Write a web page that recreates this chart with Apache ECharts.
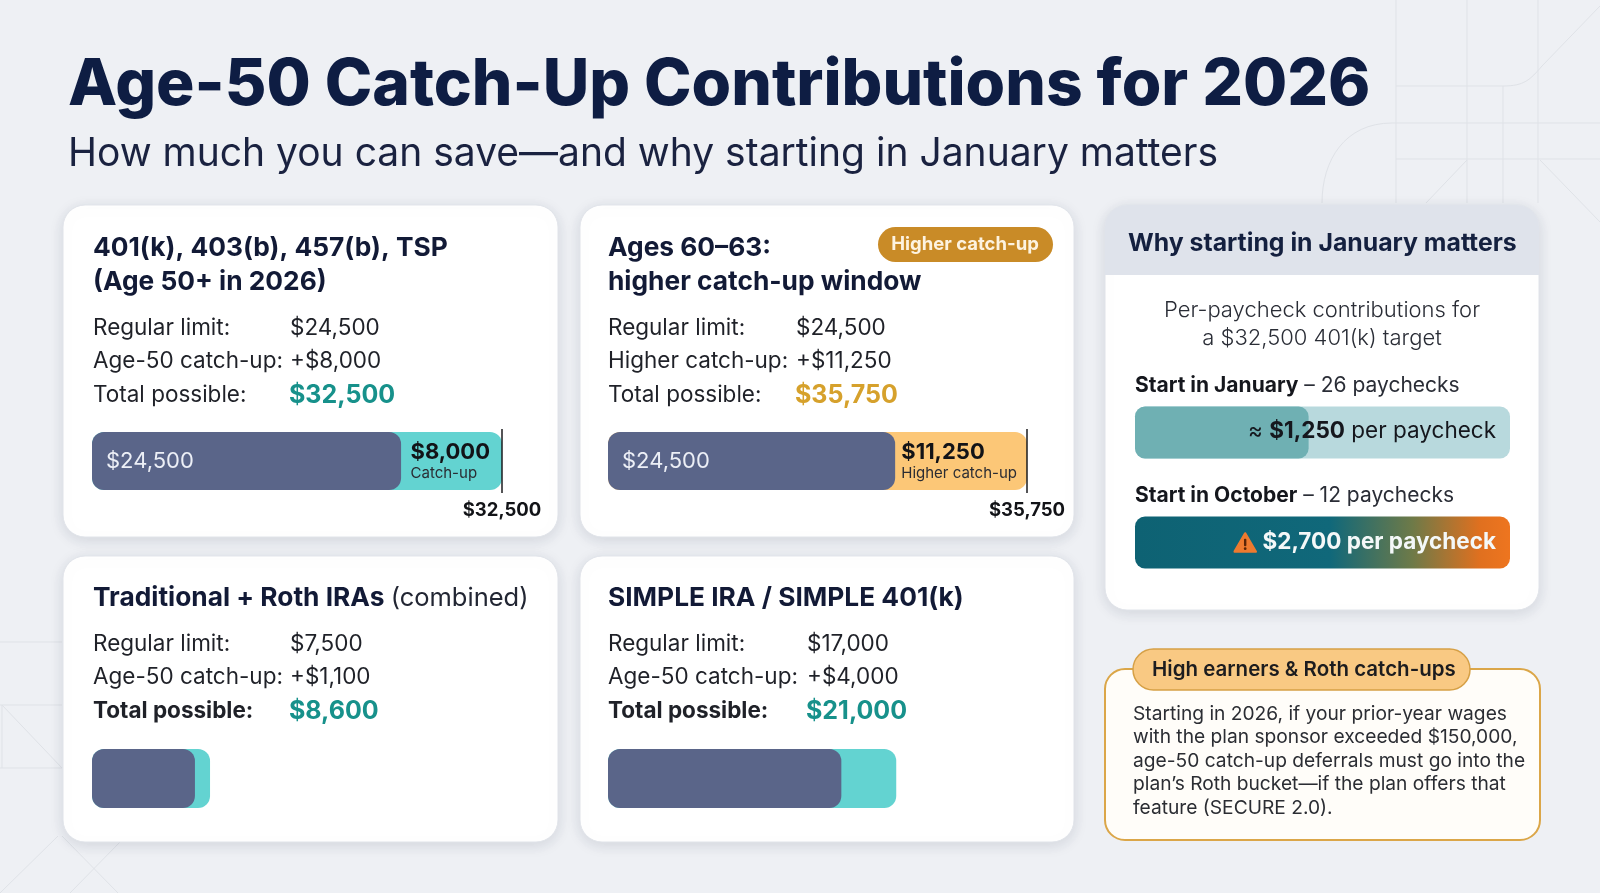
<!DOCTYPE html>
<html>
<head>
<meta charset="utf-8">
<script src="https://cdn.jsdelivr.net/npm/echarts@6/dist/echarts.min.js"></script>
<style>
  html, body { margin: 0; padding: 0; background: #eef0f4; }
  #chart { width: 1600px; height: 893px; }
</style>
</head>
<body>
<div id="chart"></div>
<script>
// --- data ---
const planTitles = [
  ['401(k), 403(b), 457(b), TSP', '(Age 50+ in 2026)'],
  ['Ages 60–63:', 'higher catch-up window'],
  ['{b|Traditional + Roth IRAs} {r|(combined)}'],
  ['SIMPLE IRA / SIMPLE 401(k)']
];
const regularLimit = [24500, 24500, 7500, 17000];
const catchUp = [8000, 11250, 1100, 4000];
const totalPossible = [32500, 35750, 8600, 21000];
const catchUpRowLabel = ['Age-50 catch-up:', 'Higher catch-up:', 'Age-50 catch-up:', 'Age-50 catch-up:'];
const catchUpBarLabel = ['Catch-up', 'Higher catch-up', '', ''];

const paycheckTarget = 32500;
const startMonths = ['January', 'October'];
const paychecks = [26, 12];
const perPaycheck = [1250, 2700];

const rothNote = [
  'Starting in 2026, if your prior-year wages',
  'with the plan sponsor exceeded $150,000,',
  'age-50 catch-up deferrals must go into the',
  'plan’s Roth bucket—if the plan offers that',
  'feature (SECURE 2.0).'
];

// --- layout / style ---
const FONT = 'Inter';
const NAVY = '#5a6589';
const catchColor = ['#63d3d1', '#fcc777', '#63d3d1', '#63d3d1'];
const totalColor = ['#17918b', '#d6a12c', '#17918b', '#17918b'];
const cardBox = [
  { x: 63, y: 205, w: 495, h: 332 },
  { x: 580, y: 205, w: 494, h: 332 },
  { x: 63, y: 556, w: 495, h: 286 },
  { x: 580, y: 556, w: 494, h: 286 }
];
const labelX = [93, 608, 93, 608];
const valueX = [290, 796, 290, 807];
const titleY = [[248, 282], [248, 282], [598], [598]];
const rowY = [[328, 361, 395], [328, 361, 395], [644, 677, 711], [644, 677, 711]];
const barGrids = [
  { left: 92, top: 429, width: 410, height: 64, bar: 58 },
  { left: 608, top: 429, width: 419, height: 64, bar: 58 },
  { left: 92, top: 749, width: 420, height: 59, bar: 59 },
  { left: 608, top: 749, width: 420, height: 59, bar: 59 }
];
const payGrids = [
  { left: 1135, top: 397, width: 375, height: 71, bar: 52 },
  { left: 1135, top: 507, width: 375, height: 71, bar: 52 }
];

const fmt = (v) => '$' + v.toLocaleString('en-US');

function txt(x, y, text, size, weight, color, extra) {
  return {
    type: 'text', x: x, y: y, z: 10,
    style: Object.assign({
      text: text, fontSize: size, fontWeight: weight, fill: color,
      fontFamily: FONT, align: 'left', verticalAlign: 'middle'
    }, extra || {})
  };
}
function line(x1, y1, x2, y2) {
  return { type: 'line', z: 0, shape: { x1, y1, x2, y2 }, style: { stroke: '#dfe2e7', lineWidth: 1 } };
}
function curve(x1, y1, cx1, cy1, cx2, cy2, x2, y2) {
  return {
    type: 'bezierCurve', z: 0,
    shape: { x1, y1, cpx1: cx1, cpy1: cy1, cpx2: cx2, cpy2: cy2, x2, y2 },
    style: { stroke: '#dfe2e7', lineWidth: 1, fill: null }
  };
}

const graphic = [];

// faint background geometry
graphic.push(
  line(1396, 0, 1396, 203), line(1467, 0, 1467, 203), line(1503, 86, 1503, 203), line(1538, 0, 1538, 203),
  line(1396, 86, 1503, 86), curve(1503, 86, 1524, 86, 1530, 80, 1542, 66), line(1542, 66, 1600, 6),
  line(1392, 123, 1600, 123), curve(1392, 123, 1345, 123, 1322, 160, 1322, 203),
  line(1396, 159, 1600, 159), line(1467, 160, 1426, 203), line(1540, 160, 1600, 222),
  line(0, 642, 62, 642), line(0, 705, 62, 705), line(0, 768, 62, 768), line(2, 705, 2, 768),
  line(2, 705, 62, 768), line(0, 893, 58, 836), line(62, 836, 118, 893), line(120, 842, 70, 893)
);

// title
graphic.push(txt(68, 86, 'Age-50 Catch-Up Contributions for 2026', 64, 800, '#0e1d43'));
graphic.push(txt(68, 154, 'How much you can save—and why starting in January matters', 39, 400, '#1a2240'));

// cards
const cardShadow = { shadowBlur: 14, shadowColor: 'rgba(25,35,70,0.13)', shadowOffsetY: 3 };
cardBox.forEach((c, i) => {
  graphic.push({
    type: 'rect', z: 1,
    shape: { x: c.x, y: c.y, width: c.w, height: c.h, r: 22 },
    style: Object.assign({ fill: '#ffffff', stroke: '#e1e4ea', lineWidth: 1 }, cardShadow)
  });
  planTitles[i].forEach((t, k) => {
    graphic.push(txt(labelX[i], titleY[i][k], t, 26.3, 700, '#121a36', {
      rich: {
        b: { fontSize: 26.3, fontWeight: 700, fill: '#121a36', fontFamily: FONT },
        r: { fontSize: 25.5, fontWeight: 400, fill: '#222633', fontFamily: FONT }
      }
    }));
  });
  const boldTotal = i >= 2 ? 700 : 400;
  graphic.push(txt(labelX[i], rowY[i][0], 'Regular limit:', 22.5, 400, '#1f2128'));
  graphic.push(txt(valueX[i], rowY[i][0], fmt(regularLimit[i]), 22.5, 400, '#1f2128'));
  graphic.push(txt(labelX[i], rowY[i][1], catchUpRowLabel[i], 22.5, 400, '#1f2128'));
  graphic.push(txt(valueX[i], rowY[i][1], '+' + fmt(catchUp[i]), 22.5, 400, '#1f2128'));
  graphic.push(txt(labelX[i], rowY[i][2], 'Total possible:', 22.5, boldTotal, '#1f2128'));
  graphic.push(txt(valueX[i] - 1, rowY[i][2], fmt(totalPossible[i]), 25, 700, totalColor[i]));
});

// "Higher catch-up" pill on card 2
graphic.push({
  type: 'rect', z: 5,
  shape: { x: 878, y: 227, width: 175, height: 35, r: 17.5 },
  style: { fill: '#c98b27' }
});
graphic.push(txt(965, 244.5, 'Higher catch-up', 18.5, 700, '#fdf3e0', { align: 'center' }));

// right panel
graphic.push({
  type: 'rect', z: 1,
  shape: { x: 1105, y: 205, width: 434, height: 405, r: 22 },
  style: Object.assign({ fill: '#ffffff', stroke: '#e1e4ea', lineWidth: 1 }, cardShadow)
});
graphic.push({
  type: 'rect', z: 2,
  shape: { x: 1105, y: 205, width: 434, height: 70, r: [22, 22, 0, 0] },
  style: { fill: '#dfe3eb' }
});
graphic.push(txt(1128, 244, 'Why starting in January matters', 24.8, 700, '#14203f'));
graphic.push(txt(1322, 310, 'Per-paycheck contributions for', 22, 300, '#2a2d36', { align: 'center' }));
graphic.push(txt(1322, 338, 'a ' + fmt(paycheckTarget) + ' 401(k) target', 22, 300, '#2a2d36', { align: 'center' }));
const startRich = {
  b: { fontSize: 21, fontWeight: 700, fill: '#15171d', fontFamily: FONT },
  r: { fontSize: 21, fontWeight: 400, fill: '#2a2d36', fontFamily: FONT }
};
graphic.push(txt(1135, 386, '{b|Start in ' + startMonths[0] + '}{r| – ' + paychecks[0] + ' paychecks}', 21, 400, '#2a2d36', { rich: startRich }));
graphic.push(txt(1135, 496, '{b|Start in ' + startMonths[1] + '}{r| – ' + paychecks[1] + ' paychecks}', 21, 400, '#2a2d36', { rich: startRich }));
graphic.push(txt(1496, 431, '{r|≈ }{b|' + fmt(perPaycheck[0]) + '}{r| per paycheck}', 22.5, 400, '#15171d', {
  align: 'right',
  rich: {
    b: { fontSize: 22.5, fontWeight: 700, fill: '#15171d', fontFamily: FONT },
    r: { fontSize: 22.5, fontWeight: 400, fill: '#15171d', fontFamily: FONT }
  }
}));

// Roth note box
graphic.push({
  type: 'rect', z: 1,
  shape: { x: 1105, y: 669, width: 435, height: 171, r: 20 },
  style: { fill: '#fffdf9', stroke: '#dba648', lineWidth: 2 }
});
graphic.push({
  type: 'rect', z: 3,
  shape: { x: 1133, y: 649, width: 337, height: 41, r: 20.5 },
  style: { fill: '#f9c983', stroke: '#d6a046', lineWidth: 1.5 }
});
graphic.push(txt(1152, 670, 'High earners & Roth catch-ups', 20.5, 600, '#1c1c1f'));
rothNote.forEach((t, k) => {
  graphic.push(txt(1133, 714 + k * 23.5, t, 19.2, 400, '#2b2d33'));
});

// --- chart grids / series ---
const grids = [];
const xAxes = [];
const yAxes = [];
const series = [];
const allGrids = barGrids.concat(payGrids);
allGrids.forEach((g, i) => {
  grids.push({ left: g.left, top: g.top, width: g.width, height: g.height, containLabel: false });
  xAxes.push({
    type: 'value', gridIndex: i, min: 0,
    max: i < 2 ? totalPossible[i] : (i < 4 ? 30600 : Math.max(...perPaycheck)),
    show: false
  });
  yAxes.push({
    type: 'category', gridIndex: i, data: [''],
    show: i >= 4,
    axisLine: { show: i >= 4, lineStyle: { color: '#1d1d1f', width: 1.5 } },
    axisTick: { show: false }, axisLabel: { show: false }, splitLine: { show: false }
  });
});

barGrids.forEach((g, i) => {
  const withLabels = i < 2;
  series.push({
    name: 'Total possible', type: 'bar', xAxisIndex: i, yAxisIndex: i,
    data: [totalPossible[i]], barWidth: g.bar, z: 2, silent: true,
    itemStyle: { color: catchColor[i], borderRadius: 12 },
    label: {
      show: withLabels, position: 'insideRight', distance: i === 0 ? 12 : 10,
      formatter: () => '{v|' + fmt(catchUp[i]) + '}\n{s|' + catchUpBarLabel[i] + '}',
      rich: {
        v: { fontSize: 22, fontWeight: 700, color: '#121317', fontFamily: FONT, align: 'left', lineHeight: 24 },
        s: { fontSize: 15, fontWeight: 400, color: '#2a2c33', fontFamily: FONT, align: 'left', lineHeight: 18 }
      }
    },
    markLine: withLabels ? {
      silent: true, symbol: ['none', 'none'],
      lineStyle: { color: '#1b1b1e', width: 1.5, type: 'solid' },
      label: {
        position: 'start', distance: 8, formatter: fmt(totalPossible[i]),
        fontSize: 18.5, fontWeight: 700, color: '#121317', fontFamily: FONT
      },
      data: [{ xAxis: totalPossible[i] }]
    } : undefined
  });
  series.push({
    name: 'Regular limit', type: 'bar', xAxisIndex: i, yAxisIndex: i,
    data: [regularLimit[i]], barWidth: g.bar, barGap: '-100%', z: 3, silent: true,
    itemStyle: { color: NAVY, borderRadius: 12 },
    label: {
      show: withLabels, position: 'insideLeft', distance: 14,
      formatter: () => fmt(regularLimit[i]),
      fontSize: 22, fontWeight: 400, color: '#eceff6', fontFamily: FONT
    }
  });
});

const warnIcon = 'data:image/svg+xml;charset=utf-8,' + encodeURIComponent(
  '<svg xmlns="http://www.w3.org/2000/svg" width="26" height="24" viewBox="0 0 26 24">' +
  '<path d="M13 2 L24.5 22 L1.5 22 Z" fill="#ee7a2f" stroke="#ee7a2f" stroke-width="2.5" stroke-linejoin="round"/>' +
  '<rect x="11.7" y="8" width="2.6" height="8" rx="1" fill="#5a2407"/>' +
  '<circle cx="13" cy="18.8" r="1.5" fill="#5a2407"/></svg>'
);

series.push({
  name: 'Start in ' + startMonths[0], type: 'bar', xAxisIndex: 4, yAxisIndex: 4,
  data: [perPaycheck[0]], barWidth: payGrids[0].bar, silent: true,
  showBackground: true,
  backgroundStyle: { color: '#b8d9dd', borderRadius: 10 },
  itemStyle: { color: '#6fb0b3', borderRadius: 10 }
});
series.push({
  name: 'Start in ' + startMonths[1], type: 'bar', xAxisIndex: 5, yAxisIndex: 5,
  data: [perPaycheck[1]], barWidth: payGrids[1].bar, silent: true,
  itemStyle: {
    borderRadius: 10,
    color: new echarts.graphic.LinearGradient(0, 0, 1, 0, [
      { offset: 0, color: '#0e6273' },
      { offset: 0.52, color: '#10687a' },
      { offset: 0.74, color: '#6e7a48' },
      { offset: 0.92, color: '#e0701f' },
      { offset: 1, color: '#ee751f' }
    ])
  },
  label: {
    show: true, position: 'insideRight', distance: 14,
    formatter: () => '{i|}{v| ' + fmt(perPaycheck[1]) + ' per paycheck}',
    rich: {
      i: { backgroundColor: { image: warnIcon }, width: 24, height: 22 },
      v: { fontSize: 22.5, fontWeight: 700, color: '#f4f8f8', fontFamily: FONT }
    }
  }
});

const myChart = echarts.init(document.getElementById('chart'), null, { renderer: 'canvas' });
myChart.setOption({
  backgroundColor: '#eef0f4',
  animation: false,
  graphic: { elements: graphic },
  grid: grids,
  xAxis: xAxes,
  yAxis: yAxes,
  series: series
});
</script>
</body>
</html>
